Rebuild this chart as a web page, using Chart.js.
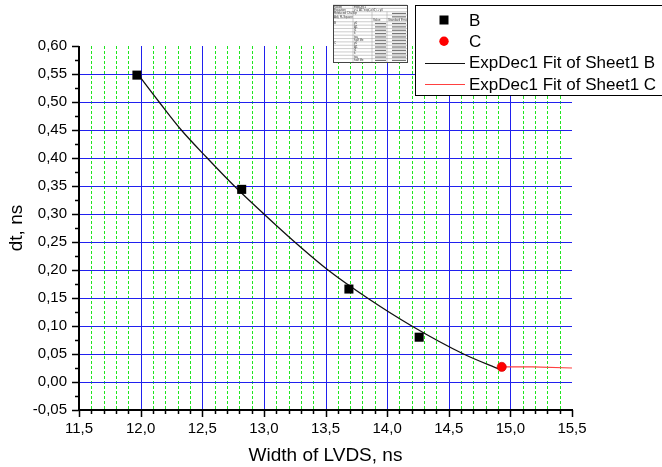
<!DOCTYPE html>
<html>
<head>
<meta charset="utf-8">
<script src="https://cdn.jsdelivr.net/npm/chart.js@4.4.1/dist/chart.umd.min.js"></script>
<style>
  body { margin: 0; background: #fff; }
  canvas { display: block; }
</style>
</head>
<body>
<canvas id="chart" width="662" height="467"></canvas>
<script>
// measured points (Sheet1 B and C)
const widthB = [11.97, 12.82, 13.69, 14.26];
const dtB = [0.548, 0.344, 0.166, 0.080];
const widthC = [14.93];
const dtC = [0.027];

// ExpDec1 fit curves, sampled along the fitted line
const fitWidthB = [11.97, 12.15, 12.33, 12.54, 12.76, 13.0, 13.25, 13.52, 13.84, 14.20, 14.62, 14.92];
const fitDtB = [0.552, 0.50, 0.45, 0.40, 0.35, 0.30, 0.25, 0.20, 0.15, 0.10, 0.05, 0.022];
const fitWidthC = [14.93, 15.18, 15.5];
const fitDtC = [0.027, 0.027, 0.025];

const seriesNames = ['B', 'C', 'ExpDec1 Fit of Sheet1 B', 'ExpDec1 Fit of Sheet1 C'];
const xTitle = 'Width of LVDS, ns';
const yTitle = 'dt, ns';

const FONT = '"Liberation Sans", Arial, sans-serif';
const BLUE = '#2020ee';
const GREEN = '#1fe61f';

const toXY = (xs, ys) => xs.map((x, i) => ({ x: x, y: ys[i] }));
const isMajorX = v => Math.abs(v * 2 - Math.round(v * 2)) < 1e-6;
const comma = (v, d) => v.toFixed(d).replace('.', ',');

// fit-results table in the top corner
const tableRows = [
  ['Model', 'ExpDec1'],
  ['Equation', 'y = A1*exp(-x/t1) + y0'],
  ['Reduced Chi-Sqr', ''],
  ['Adj. R-Square', ''],
  ['', '', 'Value', 'Standard Error'],
  ['B', 'y0'], ['', 'A1'], ['', 't1'], ['', 'k'], ['', 'tau'], ['', 'half life'],
  ['C', 'y0'], ['', 'A1'], ['', 't1'], ['', 'k'], ['', 'tau'], ['', 'half life']
];

// grid: blue solid at major steps, green dashed at x minor steps
const grid = {
  id: 'grid',
  beforeDatasetsDraw(chart) {
    const { ctx, scales: { x, y }, chartArea } = chart;
    ctx.save();
    ctx.lineWidth = 1;
    x.ticks.slice(1, -1).forEach(t => {
      const px = Math.round(x.getPixelForValue(t.value)) + 0.5;
      const major = isMajorX(t.value);
      ctx.strokeStyle = major ? BLUE : GREEN;
      ctx.setLineDash(major ? [] : [3, 2]);
      ctx.beginPath();
      ctx.moveTo(px, chartArea.top);
      ctx.lineTo(px, chartArea.bottom);
      ctx.stroke();
    });
    ctx.setLineDash([]);
    ctx.strokeStyle = BLUE;
    ctx.beginPath();
    y.ticks.slice(1, -1).forEach(t => {
      const py = Math.round(y.getPixelForValue(t.value)) + 0.5;
      ctx.moveTo(chartArea.left, py);
      ctx.lineTo(chartArea.right, py);
    });
    ctx.stroke();
    ctx.restore();
  }
};

const decor = {
  id: 'decor',
  afterDraw(chart) {
    const { ctx, scales: { x, y }, chartArea } = chart;
    ctx.save();

    // axis lines
    ctx.fillStyle = '#000';
    ctx.fillRect(chartArea.left - 1, chartArea.top, 2, chartArea.bottom - chartArea.top + 1);
    ctx.fillRect(chartArea.left - 1, chartArea.bottom - 1, chartArea.right - chartArea.left + 2, 2);

    // outside tick marks
    ctx.strokeStyle = '#000';
    ctx.lineWidth = 1.5;
    ctx.beginPath();
    x.ticks.forEach(t => {
      const px = Math.round(x.getPixelForValue(t.value)) + 0.5;
      const len = isMajorX(t.value) ? 7 : 4;
      ctx.moveTo(px, chartArea.bottom);
      ctx.lineTo(px, chartArea.bottom + len);
    });
    y.ticks.forEach((t, i) => {
      const py = Math.round(y.getPixelForValue(t.value)) + 0.5;
      ctx.moveTo(chartArea.left, py);
      ctx.lineTo(chartArea.left - 7, py);
      if (i < y.ticks.length - 1) {
        const mid = (t.value + y.ticks[i + 1].value) / 2;
        const pm = Math.round(y.getPixelForValue(mid)) + 0.5;
        ctx.moveTo(chartArea.left, pm);
        ctx.lineTo(chartArea.left - 4, pm);
      }
    });
    ctx.stroke();

    // axis titles
    ctx.fillStyle = '#000';
    ctx.font = '19px ' + FONT;
    ctx.textAlign = 'center';
    ctx.textBaseline = 'middle';
    ctx.fillText(xTitle, (chartArea.left + chartArea.right) / 2, 456);
    ctx.save();
    ctx.translate(17, (chartArea.top + chartArea.bottom) / 2);
    ctx.rotate(-Math.PI / 2);
    ctx.fillText(yTitle, 0, 0);
    ctx.restore();

    // legend box
    ctx.fillStyle = '#fff';
    ctx.fillRect(415.5, 5.5, 260, 90);
    ctx.strokeStyle = '#000';
    ctx.lineWidth = 1;
    ctx.strokeRect(415.5, 5.5, 260, 90);
    ctx.font = '17px ' + FONT;
    ctx.textAlign = 'left';
    const ds = chart.data.datasets;
    ds.forEach((d, i) => {
      const cy = 20 + i * 21.3;
      if (d.showLine) {
        ctx.strokeStyle = d.borderColor;
        ctx.lineWidth = 1;
        ctx.beginPath();
        ctx.moveTo(425, Math.round(cy) + 0.5);
        ctx.lineTo(465, Math.round(cy) + 0.5);
        ctx.stroke();
      } else if (d.pointStyle === 'rect') {
        ctx.fillStyle = d.backgroundColor;
        ctx.fillRect(439.5, cy - 4.5, 9, 9);
      } else {
        ctx.fillStyle = d.backgroundColor;
        ctx.beginPath();
        ctx.arc(444, cy, 4.7, 0, Math.PI * 2);
        ctx.fill();
      }
      ctx.fillStyle = '#000';
      ctx.fillText(d.label, 469, cy + 1);
    });

    // fit table
    const tx = 333, ty = 5, tw = 74, th = 57;
    const rh = th / tableRows.length;
    const cols = [333, 353, 372, 387, 407];
    ctx.fillStyle = '#fff';
    ctx.fillRect(tx, ty, tw, th);
    ctx.strokeStyle = '#999';
    ctx.lineWidth = 0.5;
    ctx.font = '3px ' + FONT;
    ctx.textBaseline = 'middle';
    tableRows.forEach((row, r) => {
      const ry = ty + r * rh;
      ctx.beginPath();
      ctx.moveTo(tx, ry);
      ctx.lineTo(tx + tw, ry);
      ctx.stroke();
      ctx.fillStyle = '#333';
      row.forEach((cell, c) => {
        if (cell) ctx.fillText(cell, cols[c] + 1, ry + rh / 2);
      });
      // illegible numeric cells
      if (r >= 2 && r !== 4) {
        ctx.fillStyle = '#777';
        if (r > 4) ctx.fillRect(cols[2] + 3, ry + rh / 2 - 0.5, 11, 1.2);
        ctx.fillRect(cols[3] + 5, ry + rh / 2 - 0.5, 14, 1.2);
      }
    });
    ctx.beginPath();
    cols.slice(1, 4).forEach(cx => {
      ctx.moveTo(cx, ty + 2 * rh);
      ctx.lineTo(cx, ty + th);
    });
    ctx.moveTo(cols[1], ty);
    ctx.lineTo(cols[1], ty + 2 * rh);
    ctx.stroke();
    ctx.strokeStyle = '#444';
    ctx.lineWidth = 1;
    ctx.strokeRect(tx + 0.5, ty + 0.5, tw, th);

    ctx.restore();
  }
};

new Chart(document.getElementById('chart'), {
  type: 'scatter',
  data: {
    datasets: [
      {
        label: seriesNames[0],
        data: toXY(widthB, dtB),
        pointStyle: 'rect',
        pointRadius: 6.4,
        backgroundColor: '#000',
        borderColor: '#000',
        borderWidth: 0,
        showLine: false
      },
      {
        label: seriesNames[1],
        data: toXY(widthC, dtC),
        pointStyle: 'circle',
        pointRadius: 4.6,
        backgroundColor: '#ff0000',
        borderColor: '#cc0000',
        borderWidth: 0.6,
        showLine: false
      },
      {
        label: seriesNames[2],
        data: toXY(fitWidthB, fitDtB),
        showLine: true,
        borderColor: '#111',
        borderWidth: 1.3,
        cubicInterpolationMode: 'monotone',
        pointRadius: 0
      },
      {
        label: seriesNames[3],
        data: toXY(fitWidthC, fitDtC),
        showLine: true,
        borderColor: '#ff4040',
        borderWidth: 1.2,
        pointRadius: 0
      }
    ]
  },
  options: {
    responsive: false,
    animation: false,
    layout: { padding: { left: 0, top: 46, right: 90, bottom: 0 } },
    plugins: {
      legend: { display: false },
      tooltip: { enabled: false }
    },
    scales: {
      x: {
        type: 'linear',
        min: 11.5,
        max: 15.5,
        afterFit: s => { s.height = 57; },
        ticks: {
          stepSize: 0.1,
          autoSkip: false,
          maxRotation: 0,
          padding: 10,
          color: '#000',
          font: { family: FONT, size: 15 },
          callback: v => (isMajorX(v) ? comma(v, 1) : '')
        },
        grid: { display: false, drawTicks: false },
        border: { display: false }
      },
      y: {
        type: 'linear',
        min: -0.05,
        max: 0.6,
        afterFit: s => { s.width = 79; },
        ticks: {
          stepSize: 0.05,
          padding: 12,
          color: '#000',
          font: { family: FONT, size: 15 },
          callback: v => comma(v, 2)
        },
        grid: { display: false, drawTicks: false },
        border: { display: false }
      }
    }
  },
  plugins: [grid, decor]
});
</script>
</body>
</html>
